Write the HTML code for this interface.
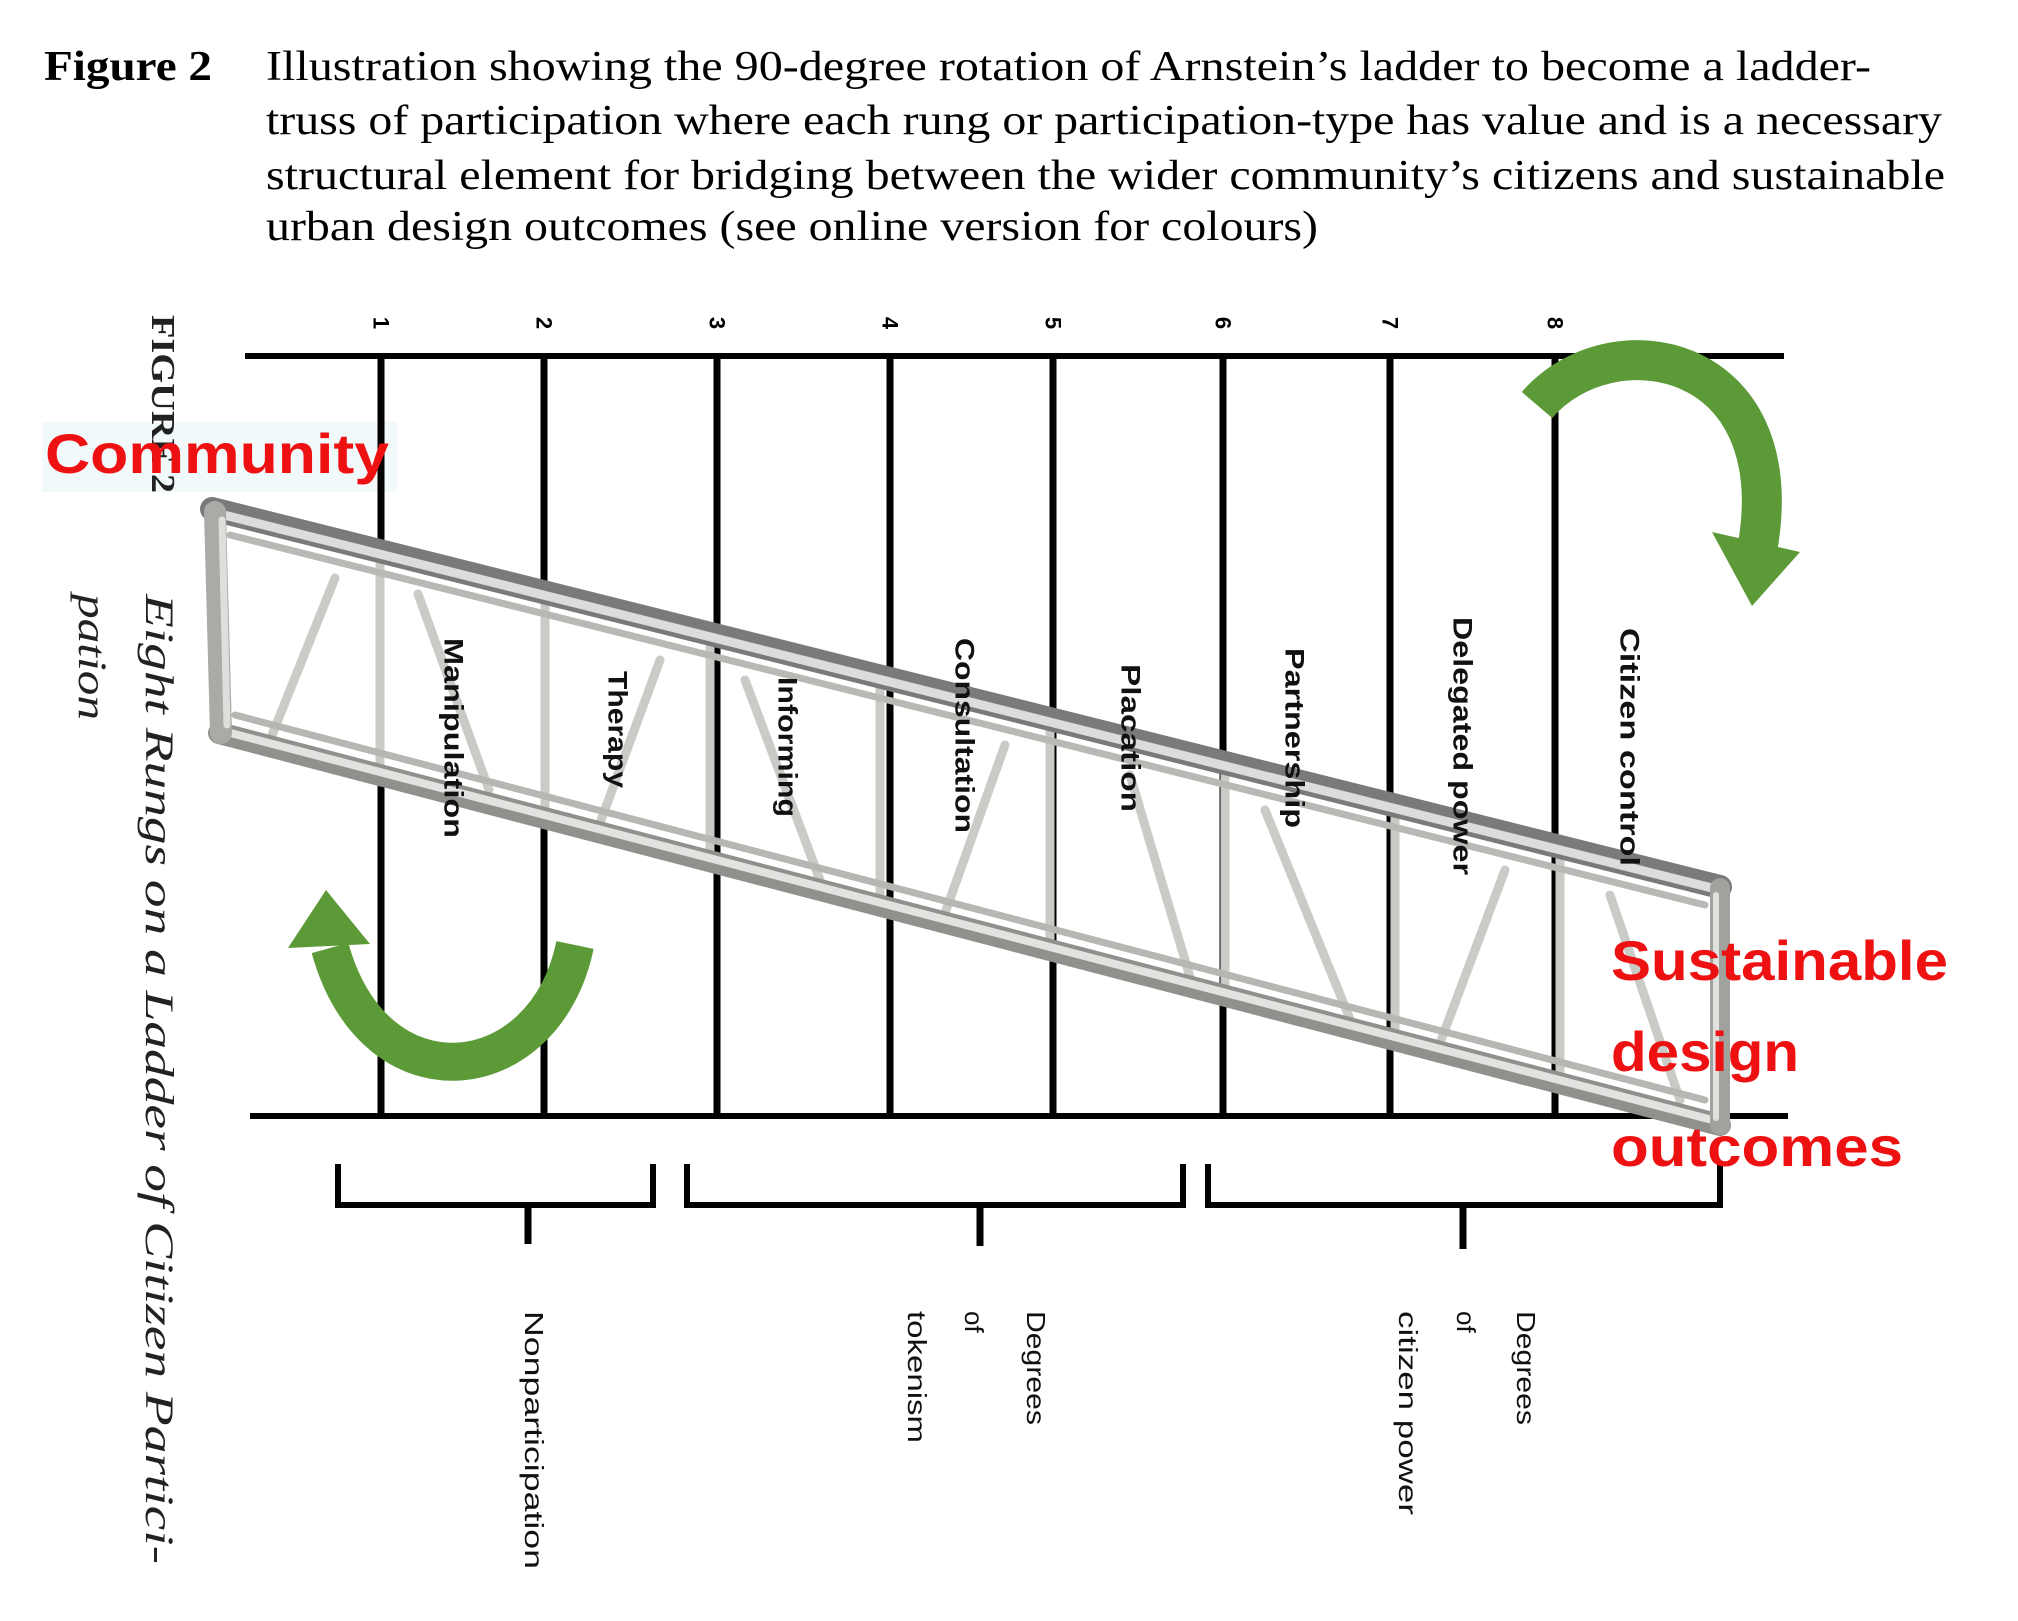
<!DOCTYPE html>
<html><head><meta charset="utf-8"><style>
html,body{margin:0;padding:0;background:#fff;}
svg{display:block;}
</style></head><body>
<svg width="2018" height="1621" viewBox="0 0 2018 1621" xmlns="http://www.w3.org/2000/svg">
<rect width="2018" height="1621" fill="#fff"/>
<g font-family="'Liberation Serif', serif" font-size="42" fill="#000">
<text x="44" y="80" font-weight="bold" textLength="168" lengthAdjust="spacingAndGlyphs">Figure 2</text>
<text x="266" y="80" textLength="1605" lengthAdjust="spacingAndGlyphs">Illustration showing the 90-degree rotation of Arnstein’s ladder to become a ladder-</text>
<text x="266" y="134" textLength="1676" lengthAdjust="spacingAndGlyphs">truss of participation where each rung or participation-type has value and is a necessary</text>
<text x="266" y="189" textLength="1679" lengthAdjust="spacingAndGlyphs">structural element for bridging between the wider community’s citizens and sustainable</text>
<text x="266" y="240" textLength="1052" lengthAdjust="spacingAndGlyphs">urban design outcomes (see online version for colours)</text>
</g>

<rect x="42" y="422" width="355" height="70" fill="#f1f9fb"/>

<g stroke="#000" stroke-width="7" fill="none">
<line x1="245" y1="356" x2="1784" y2="356" stroke-width="6"/>
<line x1="250" y1="1116" x2="1788" y2="1116" stroke-width="6"/>
<line x1="381" y1="356" x2="381" y2="1116"/>
<line x1="544" y1="356" x2="544" y2="1116"/>
<line x1="717" y1="356" x2="717" y2="1116"/>
<line x1="890" y1="356" x2="890" y2="1116"/>
<line x1="1053" y1="356" x2="1053" y2="1116"/>
<line x1="1223" y1="356" x2="1223" y2="1116"/>
<line x1="1390" y1="356" x2="1390" y2="1116"/>
<line x1="1555" y1="356" x2="1555" y2="1116"/>
<polyline points="338,1164 338,1205 653,1205 653,1164" stroke-width="6"/>
<line x1="528" y1="1205" x2="528" y2="1244" stroke-width="7"/>
<polyline points="687,1164 687,1205 1183,1205 1183,1164" stroke-width="6"/>
<line x1="980" y1="1205" x2="980" y2="1246" stroke-width="7"/>
<polyline points="1208,1164 1208,1205 1720,1205 1720,1164" stroke-width="6"/>
<line x1="1463" y1="1205" x2="1463" y2="1249" stroke-width="7"/>
</g>

<g font-family="'Liberation Sans', sans-serif" font-size="22" font-weight="bold" fill="#000">
<text transform="translate(381,323) rotate(90)" text-anchor="middle" dy="0.35em">1</text>
<text transform="translate(544,323) rotate(90)" text-anchor="middle" dy="0.35em">2</text>
<text transform="translate(717,323) rotate(90)" text-anchor="middle" dy="0.35em">3</text>
<text transform="translate(890,323) rotate(90)" text-anchor="middle" dy="0.35em">4</text>
<text transform="translate(1053,323) rotate(90)" text-anchor="middle" dy="0.35em">5</text>
<text transform="translate(1223,323) rotate(90)" text-anchor="middle" dy="0.35em">6</text>
<text transform="translate(1390,323) rotate(90)" text-anchor="middle" dy="0.35em">7</text>
<text transform="translate(1555,323) rotate(90)" text-anchor="middle" dy="0.35em">8</text>
</g>

<g font-family="'Liberation Serif', serif" fill="#222">
<text transform="translate(164,315) rotate(90)" dy="0.35em" font-size="34" font-weight="bold" textLength="178" lengthAdjust="spacingAndGlyphs">FIGURE 2</text>
<text transform="translate(160,594) rotate(90)" dy="0.35em" font-size="40" font-style="italic" textLength="970" lengthAdjust="spacingAndGlyphs">Eight Rungs on a Ladder of Citizen Partici-</text>
<text transform="translate(93,594) rotate(90)" dy="0.35em" font-size="40" font-style="italic" textLength="126" lengthAdjust="spacingAndGlyphs">pation</text>
</g>

<g font-family="'Liberation Sans', sans-serif" font-size="26" fill="#111">
<text transform="translate(534,1311) rotate(90)" dy="0.35em" textLength="258" lengthAdjust="spacingAndGlyphs">Nonparticipation</text>
<text transform="translate(1036,1311) rotate(90)" dy="0.35em" textLength="114" lengthAdjust="spacingAndGlyphs">Degrees</text>
<text transform="translate(974,1311) rotate(90)" dy="0.35em">of</text>
<text transform="translate(917,1311) rotate(90)" dy="0.35em" textLength="132" lengthAdjust="spacingAndGlyphs">tokenism</text>
<text transform="translate(1526,1311) rotate(90)" dy="0.35em" textLength="114" lengthAdjust="spacingAndGlyphs">Degrees</text>
<text transform="translate(1466,1311) rotate(90)" dy="0.35em">of</text>
<text transform="translate(1408,1311) rotate(90)" dy="0.35em" textLength="204" lengthAdjust="spacingAndGlyphs">citizen power</text>
</g>

<g stroke-linecap="round" fill="none">
<g stroke="#c9cbc6" stroke-width="9">
<line x1="380" y1="551" x2="380" y2="766"/>
<line x1="545" y1="592" x2="545" y2="809"/>
<line x1="710" y1="634" x2="710" y2="852"/>
<line x1="880" y1="677" x2="880" y2="896"/>
<line x1="1050" y1="719" x2="1050" y2="940"/>
<line x1="1225" y1="763" x2="1225" y2="986"/>
<line x1="1395" y1="806" x2="1395" y2="1031"/>
<line x1="1560" y1="847" x2="1560" y2="1074"/>
<line x1="335" y1="578" x2="270" y2="740"/>
<line x1="418" y1="594" x2="489" y2="790"/>
<line x1="660" y1="660" x2="600" y2="823"/>
<line x1="745" y1="680" x2="820" y2="880"/>
<line x1="1005" y1="745" x2="945" y2="913"/>
<line x1="1130" y1="775" x2="1190" y2="977"/>
<line x1="1265" y1="810" x2="1350" y2="1019"/>
<line x1="1505" y1="870" x2="1440" y2="1043"/>
<line x1="1610" y1="895" x2="1680" y2="1100"/>
</g>
<line x1="219" y1="733" x2="1720" y2="1125" stroke="#8f918d" stroke-width="22"/>
<line x1="219" y1="730" x2="1720" y2="1122" stroke="#e2e3e0" stroke-width="8"/>
<line x1="235" y1="715" x2="1705" y2="1100" stroke="#b5b7b2" stroke-width="7"/>
<line x1="212" y1="509" x2="1720" y2="887" stroke="#7a7a7a" stroke-width="24"/>
<line x1="212" y1="512" x2="1720" y2="890" stroke="#dcdcdc" stroke-width="9"/>
<line x1="230" y1="535" x2="1705" y2="905" stroke="#b8b9b5" stroke-width="7"/>
<line x1="215" y1="512" x2="221" y2="733" stroke="#a9aba6" stroke-width="22"/>
<line x1="222" y1="520" x2="227" y2="725" stroke="#dedfdc" stroke-width="7"/>
<line x1="1720" y1="888" x2="1720" y2="1125" stroke="#a0a29d" stroke-width="20"/>
<line x1="1716" y1="895" x2="1716" y2="1118" stroke="#e0e1de" stroke-width="6"/>
</g>

<g font-family="'Liberation Sans', sans-serif" font-size="27" font-weight="bold" fill="#111">
<text transform="translate(454,638) rotate(90)" dy="0.35em" textLength="200" lengthAdjust="spacingAndGlyphs">Manipulation</text>
<text transform="translate(618,671) rotate(90)" dy="0.35em" textLength="117" lengthAdjust="spacingAndGlyphs">Therapy</text>
<text transform="translate(788,677) rotate(90)" dy="0.35em" textLength="140" lengthAdjust="spacingAndGlyphs">Informing</text>
<text transform="translate(965,638) rotate(90)" dy="0.35em" textLength="195" lengthAdjust="spacingAndGlyphs">Consultation</text>
<text transform="translate(1131,664) rotate(90)" dy="0.35em" textLength="148" lengthAdjust="spacingAndGlyphs">Placation</text>
<text transform="translate(1295,648) rotate(90)" dy="0.35em" textLength="180" lengthAdjust="spacingAndGlyphs">Partnership</text>
<text transform="translate(1463,617) rotate(90)" dy="0.35em" textLength="258" lengthAdjust="spacingAndGlyphs">Delegated power</text>
<text transform="translate(1630,628) rotate(90)" dy="0.35em" textLength="238" lengthAdjust="spacingAndGlyphs">Citizen control</text>
</g>

<g>
<path d="M1537,405 C1610,320 1790,350 1758,545" stroke="#5b9a37" stroke-width="40" fill="none"/>
<polygon points="1712,532 1800,552 1752,606" fill="#5b9a37"/>
<path d="M575,945 C545,1090 375,1110 330,948" stroke="#5b9a37" stroke-width="38" fill="none"/>
<polygon points="288,948 370,944 326,890" fill="#5b9a37"/>
</g>

<text x="45" y="473" font-family="'Liberation Sans', sans-serif" font-size="56" font-weight="bold" fill="#ee1111" textLength="344" lengthAdjust="spacingAndGlyphs">Community</text>
<g font-family="'Liberation Sans', sans-serif" font-size="56" font-weight="bold" fill="#ee1111">
<text x="1611" y="980" textLength="337" lengthAdjust="spacingAndGlyphs">Sustainable</text>
<text x="1611" y="1071" textLength="188" lengthAdjust="spacingAndGlyphs">design</text>
<text x="1611" y="1166" textLength="292" lengthAdjust="spacingAndGlyphs">outcomes</text>
</g>
</svg>
</body></html>
